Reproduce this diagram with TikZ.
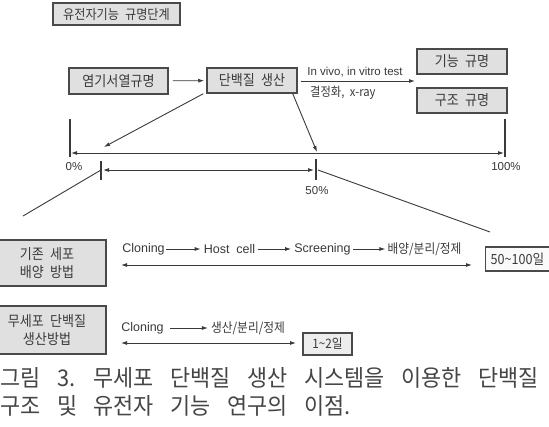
\documentclass[tikz,border=0pt]{standalone}
\usepackage{fontspec}
\setmainfont{Liberation Sans}
\newfontfamily\kr[FakeStretch=0.9, WordSpace=2.2]{Noto Sans CJK KR}
\newfontfamily\krcap[FakeStretch=0.95, WordSpace=3.4]{Noto Sans CJK KR}
\usetikzlibrary{arrows.meta}
\definecolor{txt}{HTML}{3A3A3A}
\definecolor{bord}{HTML}{4A4A4A}
\definecolor{boxf}{HTML}{E0E0E0}
\definecolor{vboxf}{HTML}{EDEDED}
\definecolor{wboxf}{HTML}{FAFAFA}
\definecolor{lc}{HTML}{3A3A3A}
\definecolor{capc}{HTML}{454545}
\begin{document}
\begin{tikzpicture}[x=1pt,y=-1pt,
  every node/.style={inner sep=0pt, text=txt},
  gbox/.style={draw=bord, fill=boxf, line width=1.5pt, font=\kr\fontsize{14.5}{18}\selectfont, align=center},
  vbox/.style={draw=bord, line width=1.1pt, font=\kr\fontsize{13}{15}\selectfont, inner xsep=4pt},
  ln/.style={draw=lc, line width=0.9pt},
  arr/.style={ln, -{Latex[length=6pt,width=4pt]}},
  darr/.style={ln, {Latex[length=6pt,width=4pt]}-{Latex[length=6pt,width=4pt]}},
  tickmark/.style={draw=lc, line width=1.4pt},
  lat/.style={font=\fontsize{12.5}{14}\selectfont},
  kt/.style={font=\kr\fontsize{13}{15}\selectfont},
  pct/.style={font=\fontsize{11.5}{13}\selectfont},
  captxt/.style={anchor=base west, font=\krcap\fontsize{23}{28}\selectfont, text=capc},
]
\useasboundingbox (0,0) rectangle (549,426);
\fill[white] (0,0) rectangle (549,426);

% top row
\node[gbox, font=\kr\fontsize{13.5}{15}\selectfont, minimum width=127pt, minimum height=22pt] (title) at (116.5,14) {유전자기능 규명단계};
\node[gbox, minimum width=99pt, minimum height=26pt] (seq) at (118.5,81) {염기서열규명};
\node[gbox, minimum width=90pt, minimum height=25pt] (prot) at (252,80.5) {단백질 생산};
\node[gbox, minimum width=90pt, minimum height=25pt] (func) at (462,61.5) {기능 규명};
\node[gbox, minimum width=90pt, minimum height=25pt] (struc) at (462,100.5) {구조 규명};

\draw[arr, shorten <=4pt, shorten >=2pt] (seq) -- (prot);
\coordinate (fa) at (415,81);
\draw[arr, shorten <=3pt] (prot.east |- fa) -- (fa);
\node[font=\fontsize{11.5}{13}\selectfont] (vivo) at (355,72) {In vivo, in vitro test};
\node[font=\kr\fontsize{12.5}{14}\selectfont, anchor=west] (xray) at (310,93) {결정화, x-ray};

% scale 0-100%
\coordinate (L0) at (70,153);
\coordinate (L100) at (505,153);
\draw[tickmark] ([yshift=34pt]L0) -- ([yshift=-4pt]L0);
\draw[tickmark] ([yshift=34pt]L100) -- ([yshift=-4pt]L100);
\draw[darr, shorten <=1pt, shorten >=1pt] (L0) -- (L100);
\node[pct] (p0) at (74,167) {0\%};
\node[pct] (p100) at (506,167) {100\%};

\coordinate (hitA) at (104,147);
\coordinate (hitB) at (317,152);
\draw[arr] ([xshift=-3pt]prot.south west) -- (hitA);
\draw[arr] ([xshift=-5pt]prot.south east) -- (hitB);

% scale 0-50%
\coordinate (m0) at (101,170);
\coordinate (m50) at (316,170);
\draw[tickmark] ([yshift=9pt]m0) -- ([yshift=-10pt]m0);
\draw[tickmark] ([yshift=11pt]m50) -- ([yshift=-10pt]m50);
\draw[darr, shorten <=2pt, shorten >=2pt] (m0) -- (m50);
\node[pct] (p50) at (317,191) {50\%};

\coordinate (dl) at (23,216);
\coordinate (dr) at (490,232);
\draw[ln] (m0) -- (dl);
\draw[ln] ([xshift=2pt]m50) -- (dr);

% methods
\node[gbox, minimum width=118pt, minimum height=46pt] (conv) at (47,263) {기존 세포\\배양 방법};
\node[gbox, minimum width=118pt, minimum height=48pt] (cf) at (47,330) {무세포 단백질\\생산방법};

\node[lat] (clo1) at (143.5,249) {Cloning};
\node[lat] (host) at (229.5,249) {Host\hspace{0.55em}cell};
\node[lat] (scr) at (322.5,249) {Screening};
\node[kt] (cul) at (424.5,249) {배양/분리/정제};
\draw[arr, shorten <=1pt, shorten >=3pt] (clo1) -- (host);
\draw[arr, shorten <=3pt, shorten >=3pt] (host) -- (scr);
\draw[arr, shorten <=2pt, shorten >=2pt] (scr) -- (cul);
\coordinate (r1a) at (121,265);
\coordinate (r1b) at (472,265);
\draw[darr] (r1a) -- (r1b);
\node[vbox, fill=wboxf, font=\kr\fontsize{14}{16}\selectfont, minimum height=24pt, anchor=west, inner xsep=5pt] (d100) at (485,259) {50\textasciitilde100일};

\node[lat] (clo2) at (142.5,328) {Cloning};
\node[kt] (prod) at (248,328) {생산/분리/정제};
\draw[arr, shorten <=6pt, shorten >=3pt] (clo2) -- (prod);
\coordinate (r2a) at (121,343);
\coordinate (r2b) at (296,343);
\draw[darr] (r2a) -- (r2b);
\node[vbox, fill=vboxf, minimum width=49pt, minimum height=22pt] (d2) at (327.5,344) {1\textasciitilde2일};

% caption
\node[captxt] (cap1) at (0,386) {그림 3. 무세포 단백질 생산 시스템을 이용한 단백질};
\node[captxt] (cap2) at (0,414) {구조 및 유전자 기능 연구의 이점.};
\end{tikzpicture}
\end{document}
